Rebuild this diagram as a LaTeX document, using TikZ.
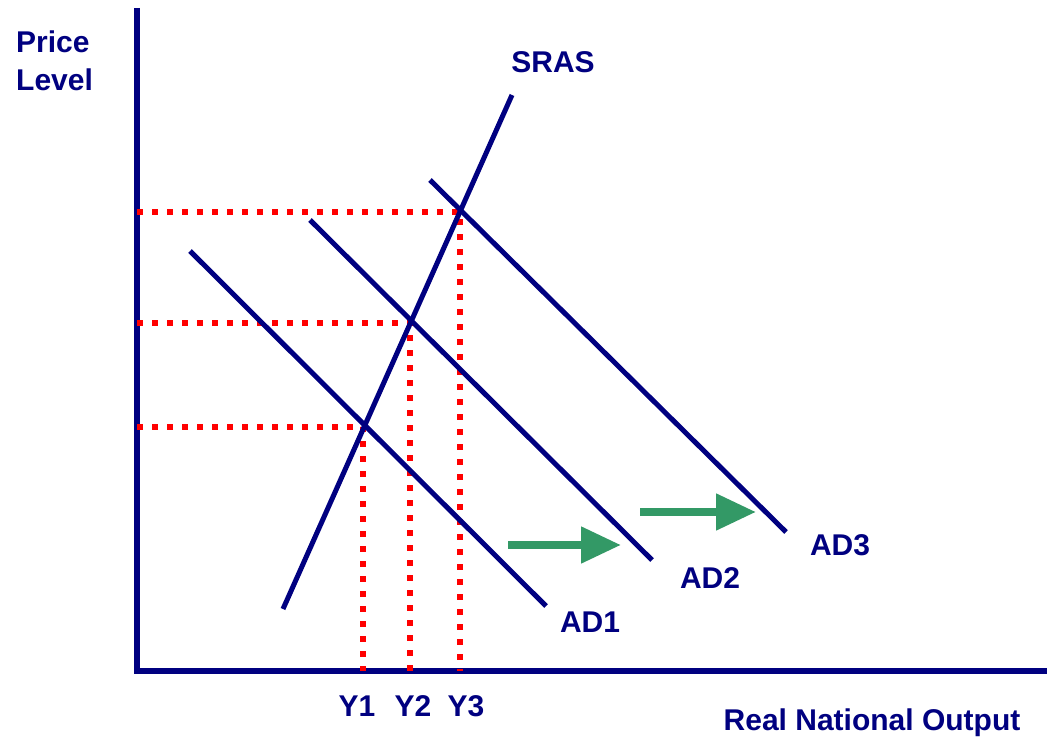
\documentclass[tikz,border=0pt]{standalone}
\usepackage{fontspec}
\setmainfont{Liberation Sans}
\usetikzlibrary{arrows.meta}
\definecolor{navy}{RGB}{0,0,128}
\definecolor{shiftgreen}{RGB}{51,153,102}
\begin{document}
\begin{tikzpicture}[x=1pt,y=-1pt,
  axisline/.style={navy,line width=6pt},
  curve/.style={navy,line width=5pt},
  guide/.style={red,line width=6pt,dash pattern=on 6pt off 9pt},
  shiftarrow/.style={shiftgreen,line width=8pt,-{Triangle[length=40pt,width=35pt]}},
  lbl/.style={text=navy,font=\fontsize{30}{34}\selectfont\bfseries,inner sep=0pt}]
\useasboundingbox[fill=white] (0,0) rectangle (1052,741);
% axes
\coordinate (O) at (137,671);
\coordinate (ytop) at (137,8);
\coordinate (xend) at (1047,671);
\draw[axisline] (ytop) -- (O) -- (xend);
% equilibrium points
\coordinate (E1) at (363,427);
\coordinate (E2) at (410,323);
\coordinate (E3) at (460,212);
% dotted guides
\draw[guide] (O |- E1) -- (E1) -- (E1 |- O);
\draw[guide] (O |- E2) -- (E2) -- (E2 |- O);
\draw[guide] (O |- E3) -- (E3) -- (E3 |- O);
% curves
\coordinate (s0) at (283,609);
\coordinate (s1) at (512,95);
\draw[curve] (s0) -- (s1);
\coordinate (a1s) at (190,251);
\coordinate (a1e) at (546,606);
\draw[curve] (a1s) -- (a1e);
\coordinate (a2s) at (310,220);
\coordinate (a2e) at (652,560);
\draw[curve] (a2s) -- (a2e);
\coordinate (a3s) at (430,180);
\coordinate (a3e) at (786,532);
\draw[curve] (a3s) -- (a3e);
% shift arrows
\coordinate (g1s) at (508,545);
\coordinate (g1e) at (621,545);
\draw[shiftarrow] (g1s) -- (g1e);
\coordinate (g2s) at (640,512);
\coordinate (g2e) at (756,512);
\draw[shiftarrow] (g2s) -- (g2e);
% labels
\node[lbl,anchor=west,align=left] (pl) at (16,61) {Price\\[4pt]Level};
\node[lbl] (sras) at (553,62) {SRAS};
\node[lbl] (ad1) at (590,622) {AD1};
\node[lbl] (ad2) at (710,578) {AD2};
\node[lbl] (ad3) at (840,545) {AD3};
\node[lbl] (y1) at (357,706) {Y1};
\node[lbl] (y2) at (413,706) {Y2};
\node[lbl] (y3) at (466,706) {Y3};
\node[lbl] (rno) at (872,723) {Real National Output};
\end{tikzpicture}
\end{document}
